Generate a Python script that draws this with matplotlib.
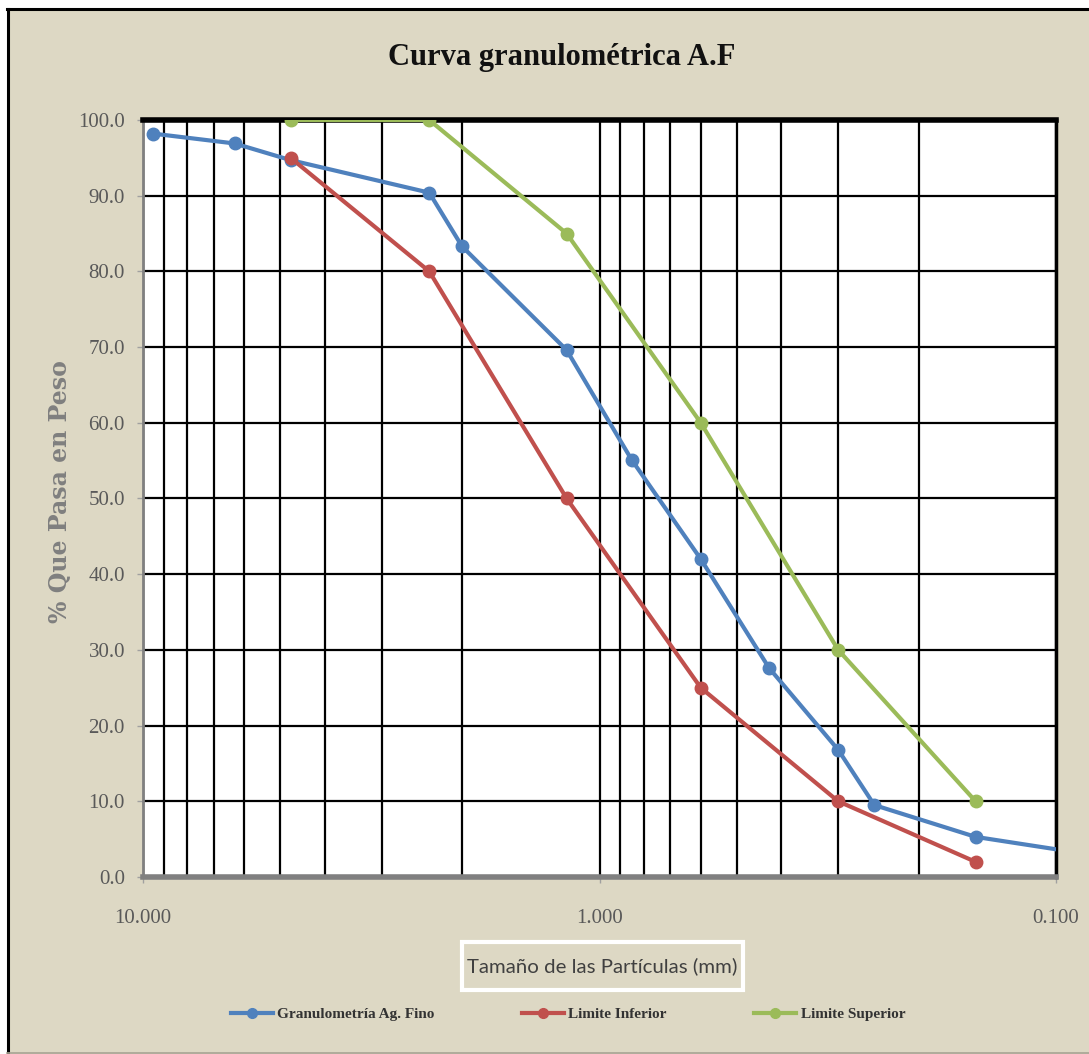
import matplotlib
matplotlib.use("Agg")
import matplotlib.pyplot as plt
from matplotlib.lines import Line2D
from matplotlib.ticker import FixedLocator, NullFormatter, LogLocator

# Sieve openings (mm) and percent passing
sizes_sample = [9.5, 6.3, 4.75, 2.36, 2.0, 1.18, 0.85, 0.6, 0.425, 0.3, 0.25, 0.15, 0.075]
pass_sample = [98.2, 96.9, 94.7, 90.4, 83.3, 69.6, 55.1, 42.0, 27.6, 16.8, 9.5, 5.3, 2.5]

sizes_limits = [4.75, 2.36, 1.18, 0.6, 0.3, 0.15]
lower_limit = [95.0, 80.0, 50.0, 25.0, 10.0, 2.0]
upper_limit = [100.0, 100.0, 85.0, 60.0, 30.0, 10.0]

y_ticks = [0, 10, 20, 30, 40, 50, 60, 70, 80, 90, 100]
x_ticks = [10.0, 1.0, 0.1]
x_tick_labels = ["10.000", "1.000", "0.100"]

series_names = ["Granulometría Ag. Fino", "Limite Inferior", "Limite Superior"]
series_colors = ["#4F81BD", "#C0504D", "#9BBB59"]

BG = "#DDD8C4"
SERIF = ["Liberation Serif", "DejaVu Serif"]

fig = plt.figure(figsize=(10.89, 10.54), dpi=100)
fig.patch.set_facecolor("white")

# chart area frame (beige panel with black left/top edge)
W, H = 1089.0, 1054.0
panel = plt.Rectangle((7 / W, 0), 1 - 7 / W, 1 - 8 / H, transform=fig.transFigure,
                      facecolor=BG, edgecolor="none", zorder=-10)
fig.patches.append(panel)
fig.add_artist(Line2D([8 / W, 8 / W], [0, 1 - 8.5 / H], transform=fig.transFigure,
                      color="black", lw=2.2))
fig.add_artist(Line2D([7 / W, 1], [1 - 8.5 / H, 1 - 8.5 / H], transform=fig.transFigure,
                      color="black", lw=2.2))
fig.add_artist(Line2D([7 / W, 1], [1.5 / H, 1.5 / H], transform=fig.transFigure,
                      color="#A8A493", lw=1.2))

ax = fig.add_axes([143 / W, 1 - 877 / H, (1056 - 143) / W, (877 - 120) / H])
ax.set_facecolor("white")
ax.set_xscale("log")
ax.set_xlim(10, 0.1)
ax.set_ylim(0, 100)

# grid: every log step on x, every 10 % on y
ax.xaxis.set_major_locator(FixedLocator(x_ticks))
ax.xaxis.set_minor_locator(LogLocator(base=10, subs=range(2, 10)))
ax.xaxis.set_minor_formatter(NullFormatter())
ax.set_xticks(x_ticks)
ax.set_xticklabels(x_tick_labels)
ax.set_yticks(y_ticks)
ax.set_yticklabels([f"{v:.1f}" for v in y_ticks])
ax.grid(True, which="both", axis="x", color="black", lw=1.6)
ax.grid(True, which="major", axis="y", color="black", lw=1.6)
ax.set_axisbelow(True)

ax.tick_params(axis="both", which="major", colors="#A0A0A0", length=4, width=1,
               labelcolor="#595959", labelsize=15)
ax.tick_params(axis="x", which="minor", length=0)
ax.tick_params(axis="x", pad=19)
ax.tick_params(axis="y", pad=9)
for lab in ax.get_xticklabels() + ax.get_yticklabels():
    lab.set_family(SERIF)

ax.spines["top"].set_color("black")
ax.spines["top"].set_linewidth(4)
ax.spines["right"].set_color("black")
ax.spines["right"].set_linewidth(2.5)
ax.spines["bottom"].set_color("#808080")
ax.spines["bottom"].set_linewidth(4)
ax.spines["left"].set_color("#808080")
ax.spines["left"].set_linewidth(2)

series = [(sizes_sample, pass_sample), (sizes_limits, lower_limit), (sizes_limits, upper_limit)]
for (xs, ys), name, col in zip(series, series_names, series_colors):
    ax.plot(xs, ys, color=col, lw=3.0, marker="o", markersize=9, label=name,
            solid_capstyle="round", zorder=3, clip_on=True)

fig.text(562 / W, 1 - 58 / H, "Curva granulométrica A.F", family=SERIF, fontweight="bold",
         fontsize=22, color="#111111", ha="center", va="center")

fig.text(60 / W, 1 - 492 / H, "% Que Pasa en Peso", family=["DejaVu Serif"],
         fontweight="bold", fontsize=17, color="#7F7F7F", rotation=90,
         ha="center", va="center")

# x-axis title inside a white-edged box
title_box = plt.Rectangle((462 / W, 1 - 990 / H), (743 - 462) / W, (990 - 942) / H,
                          transform=fig.transFigure, facecolor=BG, edgecolor="white",
                          lw=3, zorder=1)
fig.patches.append(title_box)
fig.text(602 / W, 1 - 966 / H, "Tamaño de las Partículas (mm)", family=["Lato", "DejaVu Sans"],
         fontsize=14.7, color="#404040", ha="center", va="center", zorder=2)

handles = [Line2D([], [], color=c, lw=3, marker="o", markersize=7) for c in series_colors]
leg = fig.legend(handles, series_names, loc="center", bbox_to_anchor=(568 / W, 1 - 1014 / H),
                 ncol=3, frameon=False, columnspacing=5.7, handlelength=2.75, handletextpad=0.3,
                 prop=dict(family=SERIF, weight="bold", size=11))
for t in leg.get_texts():
    t.set_color("#333333")

fig.savefig("out.png", dpi=100, facecolor=fig.get_facecolor())
